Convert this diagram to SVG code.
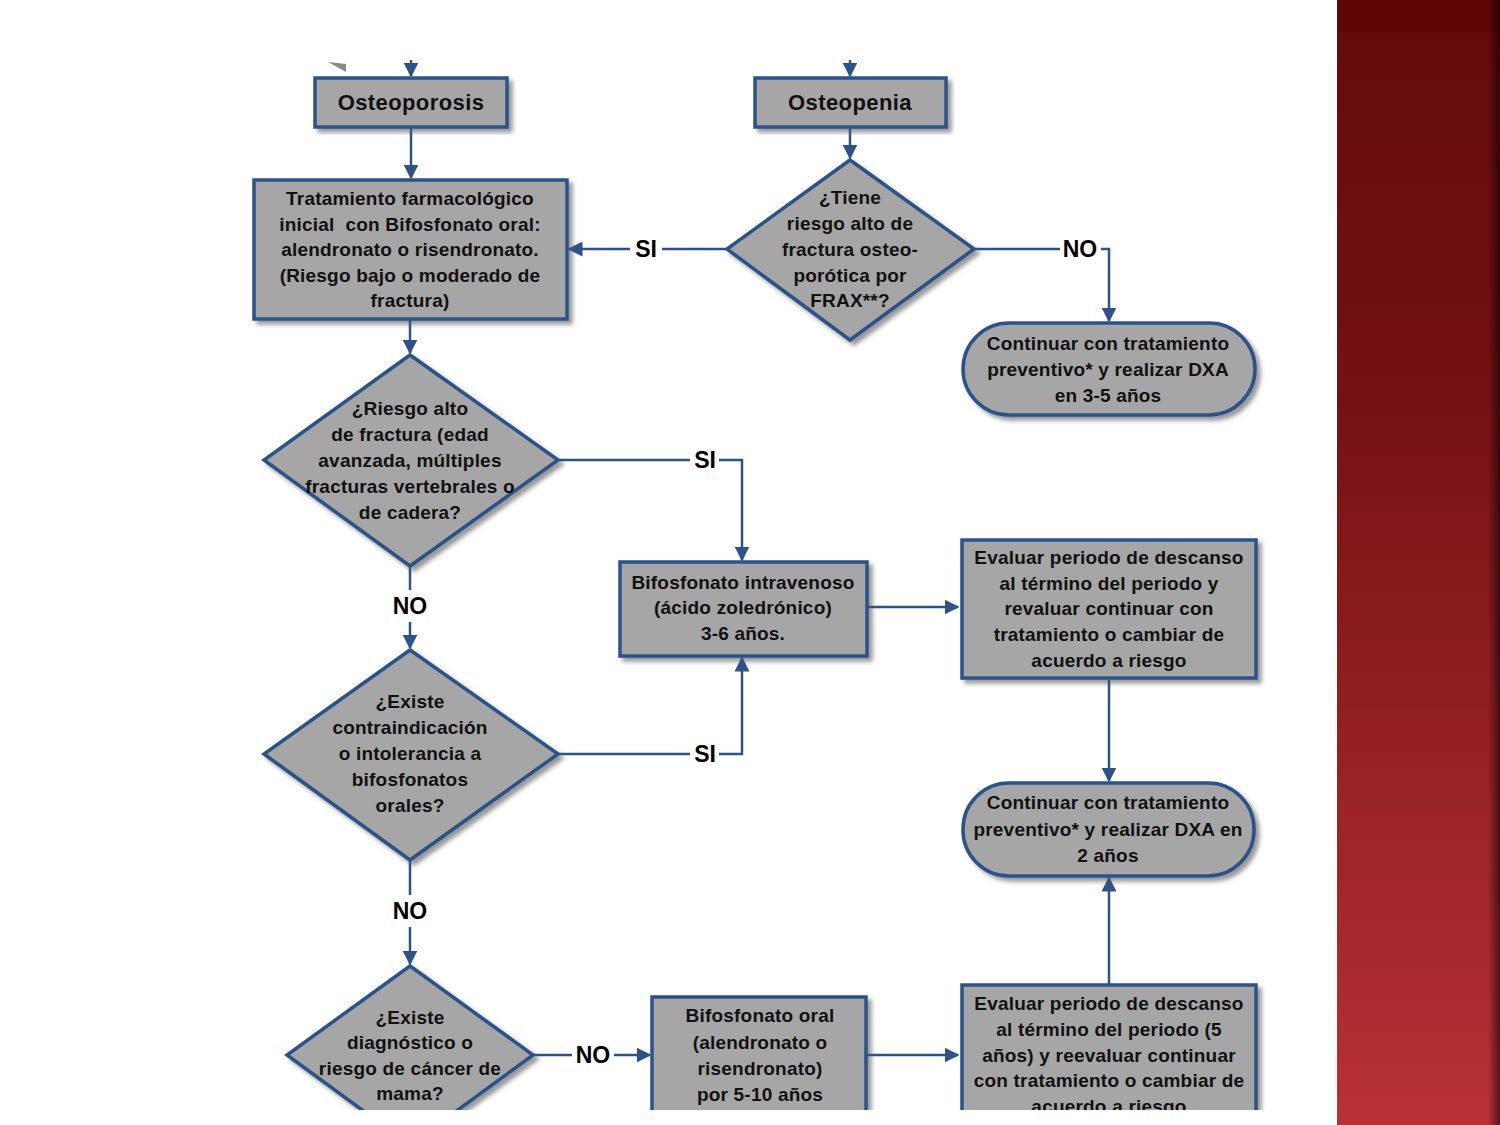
<svg xmlns="http://www.w3.org/2000/svg" width="1500" height="1125" viewBox="0 0 1500 1125">
<defs>
<style>
.n{fill:#a6a6a6;stroke:#2c5289;stroke-width:3.5;filter:url(#sh)}
.t{font-family:"Liberation Sans",Arial,sans-serif;font-weight:bold;font-size:19px;letter-spacing:0.2px;fill:#111;text-anchor:middle;dominant-baseline:central}
.b{font-size:22px;letter-spacing:0.4px}
.l{font-family:"Liberation Sans",Arial,sans-serif;font-weight:bold;font-size:23px;fill:#000;text-anchor:middle;dominant-baseline:central}
.c{fill:none;stroke:#2c5289;stroke-width:2.5}
</style>
<filter id="sh" x="-10%" y="-10%" width="125%" height="125%">
<feDropShadow dx="4" dy="4" stdDeviation="2" flood-color="#555" flood-opacity="0.6"/>
</filter>
<marker id="a" viewBox="0 0 10 10" refX="9" refY="5" markerWidth="6" markerHeight="6" orient="auto" markerUnits="strokeWidth">
<path d="M0,0 L10,5 L0,10 z" fill="#2c5289"/>
</marker>
<linearGradient id="red" x1="0" y1="0" x2="0" y2="1">
<stop offset="0" stop-color="#640a0b"/>
<stop offset="0.35" stop-color="#741113"/>
<stop offset="1" stop-color="#b83136"/>
</linearGradient>
<linearGradient id="edge" x1="0" y1="0" x2="1" y2="0">
<stop offset="0" stop-color="#000" stop-opacity="0"/>
<stop offset="1" stop-color="#000" stop-opacity="0.55"/>
</linearGradient>
<clipPath id="clip"><rect x="0" y="0" width="1337" height="1110"/></clipPath>
</defs>
<rect x="0" y="0" width="1500" height="1125" fill="#fff"/>
<g id="band">
<rect x="1337" y="0" width="163" height="1125" fill="url(#red)"/>
<rect x="1337" y="0" width="163" height="32" fill="#5c0102" opacity="0.5"/>
<rect x="1488" y="0" width="12" height="1125" fill="url(#edge)"/>
</g>
<g clip-path="url(#clip)">
<g id="connectors">
<polygon points="328,62 346,64 346,72" fill="#8a8a8a"/>
<line class="c" x1="411" y1="60" x2="411" y2="76" marker-end="url(#a)"/>
<line class="c" x1="850" y1="60" x2="850" y2="76" marker-end="url(#a)"/>
<line class="c" x1="411" y1="127" x2="411" y2="178" marker-end="url(#a)"/>
<line class="c" x1="850" y1="127" x2="850" y2="158" marker-end="url(#a)"/>
<line class="c" x1="727" y1="249" x2="662" y2="249"/>
<line class="c" x1="630" y1="249" x2="569" y2="249" marker-end="url(#a)"/>
<text class="l" x="646" y="249">SI</text>
<line class="c" x1="974" y1="249" x2="1060" y2="249"/>
<text class="l" x="1080" y="249">NO</text>
<path class="c" d="M1101,249 H1109 V321" marker-end="url(#a)"/>
<line class="c" x1="410" y1="320" x2="410" y2="353" marker-end="url(#a)"/>
<line class="c" x1="558" y1="460" x2="690" y2="460"/>
<text class="l" x="705" y="460">SI</text>
<path class="c" d="M719,460 H742 V560" marker-end="url(#a)"/>
<line class="c" x1="868" y1="607" x2="958" y2="607" marker-end="url(#a)"/>
<line class="c" x1="1109" y1="680" x2="1109" y2="781" marker-end="url(#a)"/>
<line class="c" x1="410" y1="566" x2="410" y2="590"/>
<text class="l" x="410" y="606">NO</text>
<line class="c" x1="410" y1="622" x2="410" y2="648" marker-end="url(#a)"/>
<line class="c" x1="558" y1="754" x2="690" y2="754"/>
<text class="l" x="705" y="754">SI</text>
<path class="c" d="M719,754 H742 V658" marker-end="url(#a)"/>
<line class="c" x1="410" y1="860" x2="410" y2="895"/>
<text class="l" x="410" y="911">NO</text>
<line class="c" x1="410" y1="927" x2="410" y2="964" marker-end="url(#a)"/>
<line class="c" x1="533" y1="1055" x2="572" y2="1055"/>
<text class="l" x="593" y="1055">NO</text>
<line class="c" x1="614" y1="1055" x2="650" y2="1055" marker-end="url(#a)"/>
<line class="c" x1="867" y1="1055" x2="958" y2="1055" marker-end="url(#a)"/>
<line class="c" x1="1109" y1="985" x2="1109" y2="878" marker-end="url(#a)"/>
</g>
<g id="osteoporosis">
<rect class="n" x="315" y="78" width="192" height="49"/>
<text class="t b" x="411" y="102">Osteoporosis</text>
</g>
<g id="osteopenia">
<rect class="n" x="755" y="78" width="191" height="49"/>
<text class="t b" x="850" y="102">Osteopenia</text>
</g>
<g id="tratamiento">
<rect class="n" x="254" y="180" width="313" height="139"/>
<text class="t" x="410" y="198">Tratamiento farmacológico</text>
<text class="t" x="410" y="224" xml:space="preserve">inicial  con Bifosfonato oral:</text>
<text class="t" x="410" y="249">alendronato o risendronato.</text>
<text class="t" x="410" y="275">(Riesgo bajo o moderado de</text>
<text class="t" x="410" y="300">fractura)</text>
</g>
<g id="frax">
<polygon class="n" points="850,160 974,249 850,340 727,249"/>
<text class="t" x="850" y="197">¿Tiene</text>
<text class="t" x="850" y="223">riesgo alto de</text>
<text class="t" x="850" y="249">fractura osteo-</text>
<text class="t" x="850" y="275">porótica por</text>
<text class="t" x="850" y="300">FRAX**?</text>
</g>
<g id="continuar1">
<rect class="n" x="963" y="323" width="292" height="92" rx="46"/>
<text class="t" x="1108" y="343">Continuar con tratamiento</text>
<text class="t" x="1108" y="369">preventivo* y realizar DXA</text>
<text class="t" x="1108" y="395">en 3-5 años</text>
</g>
<g id="riesgo">
<polygon class="n" points="410,355 558,460 410,566 264,460"/>
<text class="t" x="410" y="408">¿Riesgo alto</text>
<text class="t" x="410" y="434">de fractura (edad</text>
<text class="t" x="410" y="460">avanzada, múltiples</text>
<text class="t" x="410" y="486">fracturas vertebrales o</text>
<text class="t" x="410" y="512">de cadera?</text>
</g>
<g id="iv">
<rect class="n" x="620" y="562" width="247" height="94"/>
<text class="t" x="743" y="582">Bifosfonato intravenoso</text>
<text class="t" x="743" y="607">(ácido zoledrónico)</text>
<text class="t" x="743" y="633">3-6 años.</text>
</g>
<g id="evaluar1">
<rect class="n" x="962" y="540" width="294" height="138"/>
<text class="t" x="1109" y="557">Evaluar periodo de descanso</text>
<text class="t" x="1109" y="583">al término del periodo y</text>
<text class="t" x="1109" y="608">revaluar continuar con</text>
<text class="t" x="1109" y="634">tratamiento o cambiar de</text>
<text class="t" x="1109" y="660">acuerdo a riesgo</text>
</g>
<g id="continuar2">
<rect class="n" x="963" y="783" width="291" height="93" rx="46"/>
<text class="t" x="1108" y="802">Continuar con tratamiento</text>
<text class="t" x="1108" y="829">preventivo* y realizar DXA en</text>
<text class="t" x="1108" y="855">2 años</text>
</g>
<g id="contraindicacion">
<polygon class="n" points="410,650 558,754 410,860 264,754"/>
<text class="t" x="410" y="701">¿Existe</text>
<text class="t" x="410" y="727">contraindicación</text>
<text class="t" x="410" y="753">o intolerancia a</text>
<text class="t" x="410" y="779">bifosfonatos</text>
<text class="t" x="410" y="805">orales?</text>
</g>
<g id="cancer">
<polygon class="n" points="410,966 533,1055 410,1145 287,1055"/>
<text class="t" x="410" y="1017">¿Existe</text>
<text class="t" x="410" y="1042">diagnóstico o</text>
<text class="t" x="410" y="1068">riesgo de cáncer de</text>
<text class="t" x="410" y="1093">mama?</text>
</g>
<g id="oral">
<rect class="n" x="652" y="997" width="214" height="140"/>
<text class="t" x="760" y="1015">Bifosfonato oral</text>
<text class="t" x="760" y="1042">(alendronato o</text>
<text class="t" x="760" y="1068">risendronato)</text>
<text class="t" x="760" y="1094">por 5-10 años</text>
</g>
<g id="evaluar2">
<rect class="n" x="962" y="985" width="294" height="150"/>
<text class="t" x="1109" y="1003">Evaluar periodo de descanso</text>
<text class="t" x="1109" y="1029">al término del periodo (5</text>
<text class="t" x="1109" y="1055">años) y reevaluar continuar</text>
<text class="t" x="1109" y="1080">con tratamiento o cambiar de</text>
<text class="t" x="1109" y="1106">acuerdo a riesgo</text>
</g>
</g>
</svg>
